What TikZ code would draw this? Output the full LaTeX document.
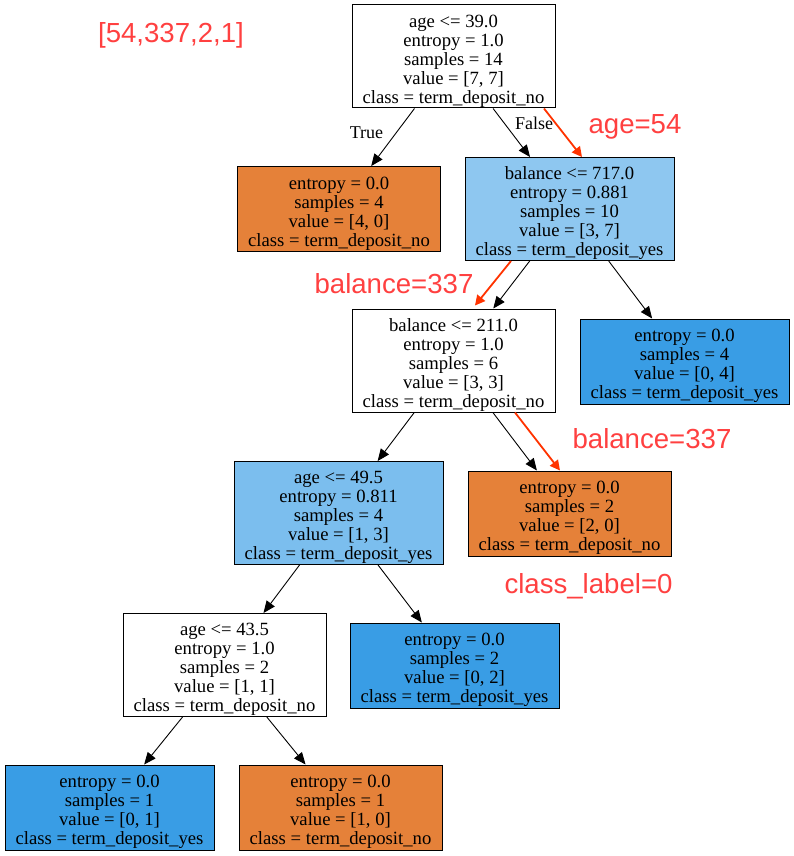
\documentclass[tikz,border=0pt]{standalone}
\usepackage{fontspec}
\setmainfont{Liberation Serif}
\newfontfamily\hintfont{Liberation Sans}
\usetikzlibrary{arrows.meta}
\definecolor{leafno}{RGB}{229,129,57}
\definecolor{leafyes}{RGB}{57,157,229}
\definecolor{splitA}{RGB}{142,199,240}
\definecolor{splitB}{RGB}{123,190,238}
\definecolor{hinttext}{RGB}{255,64,64}
\definecolor{hintline}{RGB}{255,51,0}
\newcommand{\topgap}{\rule{0pt}{21.5pt}}
\tikzset{
  treebox/.style={draw, line width=1pt, align=center, inner xsep=1pt, inner ysep=0pt,
    font=\fontsize{18.67}{19}\selectfont, minimum height=103pt},
  nobox/.style={treebox, minimum width=203pt},
  yesbox/.style={treebox, minimum width=209pt},
  leafbox/.style={minimum height=85pt},
  edge/.style={line width=0.9pt, -{Triangle[length=12pt,width=10pt]}},
  hint/.style={hintline, line width=1.8pt, -{Triangle[length=10pt,width=10pt]}},
  hintlabel/.style={hinttext, anchor=base, inner sep=0pt,
    font=\hintfont\fontsize{27.6}{30}\selectfont},
  edgelabel/.style={anchor=base, inner sep=0pt, font=\fontsize{18}{19}\selectfont}
}
\begin{document}
\begin{tikzpicture}[x=1pt,y=-1pt]
\useasboundingbox (0,0) rectangle (794,856);
% tree nodes
\node[nobox, fill=white] (root) at (453.5,56.5) {\topgap age <= 39.0\\entropy = 1.0\\samples = 14\\value = [7, 7]\\class = term\_deposit\_no};
\node[nobox, leafbox, fill=leafno] (leafA) at (339,209) {\topgap entropy = 0.0\\samples = 4\\value = [4, 0]\\class = term\_deposit\_no};
\node[yesbox, fill=splitA] (balA) at (569.5,209) {\topgap balance <= 717.0\\entropy = 0.881\\samples = 10\\value = [3, 7]\\class = term\_deposit\_yes};
\node[nobox, fill=white] (balB) at (453.5,360.5) {\topgap balance <= 211.0\\entropy = 1.0\\samples = 6\\value = [3, 3]\\class = term\_deposit\_no};
\node[yesbox, leafbox, fill=leafyes] (leafB) at (684.5,361.5) {\topgap entropy = 0.0\\samples = 4\\value = [0, 4]\\class = term\_deposit\_yes};
\node[yesbox, fill=splitB] (ageB) at (338.5,513) {\topgap age <= 49.5\\entropy = 0.811\\samples = 4\\value = [1, 3]\\class = term\_deposit\_yes};
\node[nobox, leafbox, fill=leafno] (leafC) at (569.5,513.5) {\topgap entropy = 0.0\\samples = 2\\value = [2, 0]\\class = term\_deposit\_no};
\node[nobox, fill=white] (ageC) at (224.5,665) {\topgap age <= 43.5\\entropy = 1.0\\samples = 2\\value = [1, 1]\\class = term\_deposit\_no};
\node[yesbox, leafbox, fill=leafyes] (leafD) at (454.5,665.5) {\topgap entropy = 0.0\\samples = 2\\value = [0, 2]\\class = term\_deposit\_yes};
\node[yesbox, leafbox, fill=leafyes] (leafE) at (109.5,807.5) {\topgap entropy = 0.0\\samples = 1\\value = [0, 1]\\class = term\_deposit\_yes};
\node[nobox, leafbox, fill=leafno] (leafF) at (340.5,807.5) {\topgap entropy = 0.0\\samples = 1\\value = [1, 0]\\class = term\_deposit\_no};
% edges
\draw[edge] (root) -- (leafA);
\draw[edge] (root) -- (balA);
\draw[edge] (balA) -- (balB);
\draw[edge] (balA) -- (leafB);
\draw[edge] (balB) -- (ageB);
\draw[edge] (balB) -- (leafC);
\draw[edge] (ageB) -- (ageC);
\draw[edge] (ageB) -- (leafD);
\draw[edge] (ageC) -- (leafE);
\draw[edge] (ageC) -- (leafF);
\node[edgelabel] (truelab) at (366.5,139) {True};
\node[edgelabel] (falselab) at (534,129) {False};
% decision path
\draw[hint] ([xshift=90.5pt]root.south) -- ([xshift=12.5pt]balA.north);
\draw[hint] ([xshift=-58.5pt]balA.south) -- ([xshift=21.5pt,yshift=3pt]balB.north);
\draw[hint] ([xshift=61.5pt]balB.south) -- ([xshift=-9.5pt]leafC.north);
\node[hintlabel] (sample) at (171,43) {[54,337,2,1]};
\node[hintlabel] (agehint) at (635,133) {age=54};
\node[hintlabel] (balhintA) at (394,293) {balance=337};
\node[hintlabel] (balhintB) at (652,448) {balance=337};
\node[hintlabel] (classhint) at (588.5,593) {class\_label=0};
\end{tikzpicture}
\end{document}
